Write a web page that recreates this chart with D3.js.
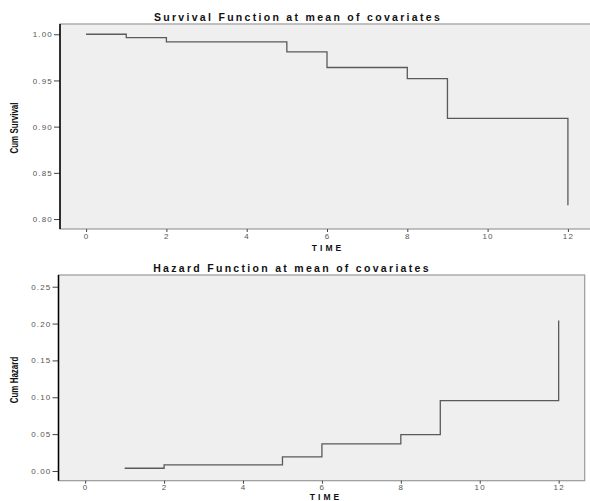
<!DOCTYPE html>
<html>
<head>
<meta charset="utf-8">
<script src="https://cdn.jsdelivr.net/npm/d3@7/dist/d3.min.js"></script>
<style>
  body { margin: 0; background: #fff; }
  svg { display: block; }
  .tick text { font-family: "Liberation Sans", Arial, sans-serif; font-size: 8px; fill: #555; letter-spacing: 1.2px; }
  .tick line { stroke: #444; }
  .title { font-family: "Liberation Sans", Arial, sans-serif; font-weight: bold; font-size: 10.5px; letter-spacing: 2.3px; fill: #111; }
  .xlab { font-family: "Liberation Sans", Arial, sans-serif; font-weight: bold; font-size: 8.5px; letter-spacing: 3px; fill: #111; }
  .ylab { font-family: "Liberation Sans", Arial, sans-serif; font-weight: bold; font-size: 10px; fill: #111; }
</style>
</head>
<body>
<div id="chart"></div>
<script>
// step times and values
var times = [0, 1, 2, 5, 6, 8, 9, 12];
var survival = [1.000, 0.9963, 0.9917, 0.981, 0.964, 0.952, 0.909, 0.815];
var hazTimes = [1, 2, 5, 6, 8, 9, 12];
var hazard = [0.0037, 0.0083, 0.0192, 0.0367, 0.0492, 0.0954, 0.204];
var xTicks = [0, 2, 4, 6, 8, 10, 12];
var survTicks = [0.80, 0.85, 0.90, 0.95, 1.00];
var hazTicks = [0.00, 0.05, 0.10, 0.15, 0.20, 0.25];

var svg = d3.select("#chart")
    .append("svg")
        .attr("width", 590)
        .attr("height", 501);

function panel(opt) {
    var x = d3.scaleLinear().domain(opt.xDomain).range([opt.left, opt.right]);
    var y = d3.scaleLinear().domain(opt.yDomain).range([opt.bottom, opt.top]);

    svg.append("rect")
        .attr("x", opt.left).attr("y", opt.top)
        .attr("width", opt.right - opt.left).attr("height", opt.bottom - opt.top)
        .attr("fill", "#efefef")
        .attr("stroke", "#999").attr("stroke-width", 1.2);

    // step line
    var pts = opt.t.map(function(d, i) { return [d, opt.v[i]]; });
    var line = d3.line()
        .x(function(d) { return x(d[0]); })
        .y(function(d) { return y(d[1]); })
        .curve(d3.curveStepAfter);
    svg.append("path")
        .datum(pts)
        .attr("d", line)
        .attr("fill", "none")
        .attr("stroke", "#5a5a5a")
        .attr("stroke-width", 1.3);

    var gy = svg.append("g")
        .attr("transform", "translate(" + opt.left + ",0)")
        .call(d3.axisLeft(y).tickValues(opt.yTicks).tickFormat(d3.format(".2f")).tickSize(6).tickPadding(1));
    gy.select(".domain").remove();
    svg.append("line")
        .attr("x1", opt.left).attr("x2", opt.left)
        .attr("y1", opt.top).attr("y2", opt.bottom)
        .attr("stroke", "#000").attr("stroke-width", 1.5);

    var gx = svg.append("g")
        .attr("transform", "translate(0," + opt.bottom + ")")
        .call(d3.axisBottom(x).tickValues(xTicks).tickFormat(d3.format("d")).tickSize(3).tickPadding(1));
    gx.select(".domain").remove();

    svg.append("text").attr("class", "title")
        .attr("x", opt.titleX).attr("y", opt.titleY)
        .attr("text-anchor", "middle")
        .text(opt.title);

    svg.append("text").attr("class", "xlab")
        .attr("x", opt.xlabX).attr("y", opt.xlabY)
        .attr("text-anchor", "middle")
        .text("TIME");

    // narrow the rotated label like the condensed face in the reference
    svg.append("text").attr("class", "ylab")
        .attr("transform", "translate(" + 18 + "," + opt.ylabY + ") rotate(-90) scale(0.8,1.15)")
        .attr("text-anchor", "middle")
        .text(opt.ylab);
}

panel({
    left: 60, right: 592, top: 24, bottom: 229,
    xDomain: [-0.65, 12.6], yDomain: [0.7892, 1.0111],
    t: times, v: survival, yTicks: survTicks,
    title: "Survival Function at mean of covariates", titleX: 298, titleY: 21,
    xlabX: 328, xlabY: 251,
    ylab: "Cum Survival", ylabY: 128
});

panel({
    left: 58.5, right: 584.7, top: 275, bottom: 480.7,
    xDomain: [-0.676, 12.66], yDomain: [-0.0132, 0.2659],
    t: hazTimes, v: hazard, yTicks: hazTicks,
    title: "Hazard Function at mean of covariates", titleX: 292, titleY: 272,
    xlabX: 326, xlabY: 500,
    ylab: "Cum Hazard", ylabY: 380
});
</script>
</body>
</html>
